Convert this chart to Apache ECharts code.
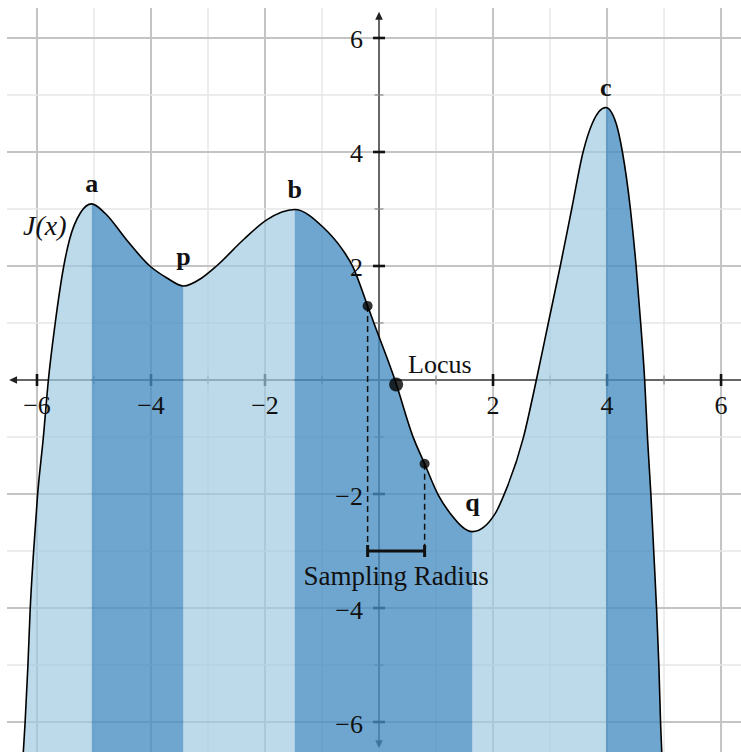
<!DOCTYPE html>
<html>
<head>
<meta charset="utf-8">
<script src="https://cdn.jsdelivr.net/npm/echarts@6/dist/echarts.min.js"></script>
<style>html,body{margin:0;padding:0;background:#fff}#c{width:741px;height:752px}</style>
</head>
<body>
<div id="c"></div>
<script>
// ---------- data ----------
const curveX = [-6.24,-6.21,-6.16,-6.12,-6.06,-5.99,-5.89,-5.80,-5.68,-5.53,-5.43,-5.24,-5.04,-4.81,-4.43,-4.02,-3.72,-3.43,-3.11,-2.85,-2.38,-1.97,-1.48,-0.98,-0.65,-0.46,-0.20,-0.09,0.28,0.59,0.80,1.04,1.25,1.64,2.04,2.19,2.53,2.76,2.97,3.18,3.38,3.58,3.74,3.98,4.16,4.27,4.41,4.51,4.59,4.66,4.71,4.77,4.82,4.87,4.91,4.94,4.96];
const curveY = [-6.53,-6.04,-5.03,-4.04,-3.02,-2.02,-1.02,0.00,1.00,2.00,2.46,2.93,3.09,2.93,2.46,2.00,1.79,1.65,1.79,2.00,2.46,2.81,2.99,2.68,2.30,1.99,1.30,1.00,0.00,-0.98,-1.47,-2.02,-2.34,-2.66,-2.34,-2.02,-1.02,0.00,1.00,2.00,3.00,4.00,4.50,4.78,4.50,4.00,3.00,2.00,1.00,0.00,-1.02,-2.02,-3.02,-4.04,-5.03,-6.04,-6.53];
const extremaNames = ['a','p','b','q','c'];
const extremaX = [-5.04,-3.43,-1.48,1.64,3.98];
const extremaKind = ['max','min','max','min','max'];
const regionShade = ['light','dark','light','dark','light','dark'];
const xTickValues = [-6,-4,-2,2,4,6];
const xTickLabels = ['−6','−4','−2','2','4','6'];
const yTickValues = [-6,-4,-2,2,4,6];
const yTickLabels = ['−6','−4','−2','2','4','6'];
const minorValues = [-5,-3,-1,1,3,5];
const locusPoint = [0.30,-0.08];
const sampleX = [-0.20,0.80];
const sampleY = [1.30,-1.47];
const bracketY = -3;
const curveName = 'J(x)';
const locusName = 'Locus';
const radiusName = 'Sampling Radius';

// ---------- view ----------
const X_MIN=-6.526, X_MAX=6.35, Y_MIN=-6.526, Y_MAX=6.526;
const AX = {xMin:-6.49, xMax:6.6, yMin:-6.46, yMax:6.46};
const FONT = '"Liberation Serif","Times New Roman",serif';
const FILL = {light:'rgba(159,202,225,0.7)', dark:'rgba(70,141,193,0.78)'};

const bounds = [0, ...extremaX.map(v => curveX.indexOf(v)), curveX.length - 1];

// monotone (Steffen) tangents used only for drawing the curve through the read points
function tangents(xs, ys){
  const n=xs.length, m=new Array(n), h=[], s=[];
  for(let i=0;i<n-1;i++){ h[i]=xs[i+1]-xs[i]; s[i]=(ys[i+1]-ys[i])/h[i]; }
  for(let i=1;i<n-1;i++){
    const p=(s[i-1]*h[i]+s[i]*h[i-1])/(h[i-1]+h[i]);
    m[i]=(Math.sign(s[i-1])+Math.sign(s[i]))*Math.min(Math.abs(s[i-1]),Math.abs(s[i]),0.5*Math.abs(p))||0;
  }
  m[0]=(3*s[0]-m[1])/2;
  m[n-1]=(3*s[n-2]-m[n-2])/2;
  return m;
}
const tan = tangents(curveX, curveY);
function curvePath(api, i0, i1){
  const f = (x,y)=>{const c=api.coord([x,y]); return c[0].toFixed(2)+' '+c[1].toFixed(2);};
  let d='M '+f(curveX[i0],curveY[i0]);
  for(let i=i0;i<i1;i++){
    const h=curveX[i+1]-curveX[i];
    d+=' C '+f(curveX[i]+h/3, curveY[i]+tan[i]*h/3)+' '+f(curveX[i+1]-h/3, curveY[i+1]-tan[i+1]*h/3)+' '+f(curveX[i+1],curveY[i+1]);
  }
  return d;
}
function renderRegion(params, api){
  const r=api.value(0);
  const i0=bounds[r], i1=bounds[r+1];
  const b1=api.coord([curveX[i1],Y_MIN]), b0=api.coord([curveX[i0],Y_MIN]);
  const d=curvePath(api,i0,i1)+' L '+b1[0].toFixed(2)+' '+(b1[1]+2).toFixed(2)+' L '+b0[0].toFixed(2)+' '+(b0[1]+2).toFixed(2)+' Z';
  return {type:'path', shape:{pathData:d}, style:{fill:FILL[regionShade[r]], stroke:null}};
}
function renderCurve(params, api){
  return {type:'path', shape:{pathData:curvePath(api,0,curveX.length-1)}, style:{fill:null, stroke:'#000', lineWidth:1.6}};
}

const gridData = [];
xTickValues.forEach(v=>gridData.push([0,v,1]));
minorValues.forEach(v=>gridData.push([0,v,0]));
yTickValues.forEach(v=>gridData.push([1,v,1]));
minorValues.forEach(v=>gridData.push([1,v,0]));

function renderGrid(params, api){
  const axis=api.value(0), v=api.value(1), major=api.value(2);
  const p1 = axis===0 ? api.coord([v,Y_MIN]) : api.coord([X_MIN,v]);
  const p2 = axis===0 ? api.coord([v,Y_MAX]) : api.coord([X_MAX,v]);
  return {type:'line', shape:{x1:p1[0],y1:p1[1],x2:p2[0],y2:p2[1]},
    style:{stroke: major?'#c4c4c4':'#e6e6e6', lineWidth: major?2:1.4}};
}
function renderTick(params, api){
  const axis=api.value(0), v=api.value(1), major=api.value(2);
  const h = major?6:4.5;
  const c = axis===0 ? api.coord([v,0]) : api.coord([0,v]);
  const shape = axis===0 ? {x1:c[0],y1:c[1]-h,x2:c[0],y2:c[1]+h} : {x1:c[0]-h,y1:c[1],x2:c[0]+h,y2:c[1]};
  return {type:'line', shape, style:{stroke: major?'#111':'#888', lineWidth: major?2.6:1.2}};
}
function arrowHead(tip, dx, dy){
  const L=8, W=3.8;
  const bx=tip[0]-dx*L, by=tip[1]-dy*L;
  return {type:'polygon', shape:{points:[[tip[0],tip[1]],[bx-dy*W,by+dx*W],[bx+dy*W,by-dx*W]]}, style:{fill:'#222'}};
}
function renderAxis(params, api){
  const axis=api.value(0);
  let a,b,da,db;
  if(axis===0){ a=api.coord([AX.xMin,0]); b=api.coord([AX.xMax,0]); da=[-1,0]; db=[1,0]; }
  else { a=api.coord([0,AX.yMin]); b=api.coord([0,AX.yMax]); da=[0,1]; db=[0,-1]; }
  return {type:'group', children:[
    {type:'line', shape:{x1:a[0]-da[0]*6,y1:a[1]-da[1]*6,x2:b[0]-db[0]*6,y2:b[1]-db[1]*6}, style:{stroke:'#666', lineWidth:2}},
    arrowHead(a,da[0],da[1]), arrowHead(b,db[0],db[1])
  ]};
}
const tickLabelData = xTickValues.map((v,i)=>[0,v,i]).concat(yTickValues.map((v,i)=>[1,v,i]));
function renderTickLabel(params, api){
  const axis=api.value(0), v=api.value(1), i=api.value(2);
  if(axis===0){
    const c=api.coord([v,0]);
    return {type:'text', style:{text:xTickLabels[i], x:c[0], y:c[1]+25, font:'26px '+FONT, fill:'#111', align:'center', verticalAlign:'middle'}};
  }
  const c=api.coord([0,v]);
  return {type:'text', style:{text:yTickLabels[i], x:c[0]-16, y:c[1]+2, font:'26px '+FONT, fill:'#111', align:'right', verticalAlign:'middle'}};
}
const extremaData = extremaX.map((x,i)=>[x, curveY[curveX.indexOf(x)], i]);
function renderExtLabel(params, api){
  const i=api.value(2);
  const c=api.coord([api.value(0),api.value(1)]);
  const off = extremaKind[i]==='max' ? -20 : -29;
  return {type:'text', style:{text:extremaNames[i], x:c[0], y:c[1]+off, font:'bold 26px '+FONT, fill:'#111', align:'center', verticalAlign:'middle'}};
}
function renderSampling(params, api){
  const children=[];
  const yb=api.value(0);
  sampleX.forEach((x,i)=>{
    const p=api.coord([x,sampleY[i]]), q=api.coord([x,yb]);
    children.push({type:'line', shape:{x1:p[0],y1:p[1],x2:q[0],y2:q[1]}, style:{stroke:'#111', lineWidth:1.5, lineDash:[6,4]}});
  });
  const l=api.coord([sampleX[0],yb]), r=api.coord([sampleX[1],yb]);
  children.push({type:'line', shape:{x1:l[0],y1:l[1],x2:r[0],y2:r[1]}, style:{stroke:'#111', lineWidth:3}});
  children.push({type:'line', shape:{x1:l[0],y1:l[1]-6,x2:l[0],y2:l[1]+6}, style:{stroke:'#111', lineWidth:3}});
  children.push({type:'line', shape:{x1:r[0],y1:r[1]-6,x2:r[0],y2:r[1]+6}, style:{stroke:'#111', lineWidth:3}});
  const m=api.coord([(sampleX[0]+sampleX[1])/2, yb]);
  children.push({type:'text', style:{text:radiusName, x:m[0], y:m[1]+25, font:'27px '+FONT, fill:'#111', align:'center', verticalAlign:'middle'}});
  return {type:'group', children};
}
function renderMisc(params, api){
  const lc=api.coord(locusPoint);
  const jc=api.coord([curveX[10], curveY[10]]);
  return {type:'group', children:[
    {type:'text', style:{text:locusName, x:lc[0]+12, y:lc[1]-20, font:'26px '+FONT, fill:'#111', align:'left', verticalAlign:'middle'}},
    {type:'text', style:{text:curveName, x:jc[0]-3, y:jc[1]-14, font:'italic 28px '+FONT, fill:'#111', align:'right', verticalAlign:'middle'}}
  ]};
}

const option = {
  animation:false,
  backgroundColor:'#fff',
  grid:{left:7, right:0, top:8, bottom:0, containLabel:false, outerBoundsMode:'none'},
  xAxis:{type:'value', min:X_MIN, max:X_MAX, show:false},
  yAxis:{type:'value', min:Y_MIN, max:Y_MAX, show:false},
  series:[
    {type:'custom', renderItem:renderGrid, data:gridData, z:1, silent:true},
    {type:'custom', renderItem:renderAxis, data:[[0,0],[1,0]], z:1, silent:true},
    {type:'custom', renderItem:renderTick, data:gridData, z:1, silent:true},
    {type:'custom', renderItem:renderRegion, data:regionShade.map((s,i)=>[i,0]), z:3, silent:true, clip:true},
    {type:'custom', renderItem:renderCurve, data:[[curveX[0],curveY[0]]], z:4, silent:true, clip:true},
    {type:'custom', renderItem:renderSampling, data:[[bracketY,0]], z:5, silent:true},
    {type:'scatter', data:sampleX.map((x,i)=>[x,sampleY[i]]), symbolSize:10, itemStyle:{color:'#000'}, z:6, silent:true},
    {type:'scatter', data:[locusPoint], symbolSize:14, itemStyle:{color:'#000'}, z:6, silent:true},
    {type:'custom', renderItem:renderTickLabel, data:tickLabelData, z:6, silent:true},
    {type:'custom', renderItem:renderExtLabel, data:extremaData, z:6, silent:true},
    {type:'custom', renderItem:renderMisc, data:[[0,0]], z:6, silent:true}
  ]
};
const chart = echarts.init(document.getElementById('c'), null, {renderer:'svg', width:741, height:752});
chart.setOption(option);
</script>
</body>
</html>
